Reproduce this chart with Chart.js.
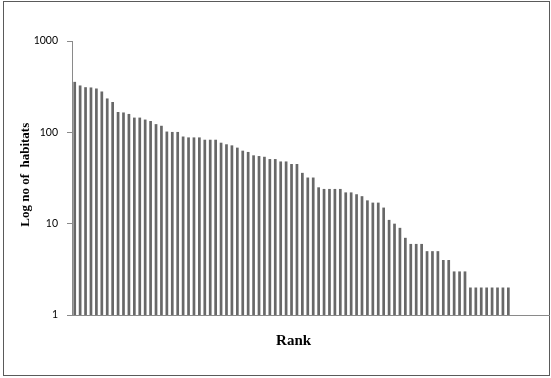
<!DOCTYPE html>
<html>
<head>
<meta charset="utf-8">
<script src="https://cdn.jsdelivr.net/npm/chart.js@4.4.1/dist/chart.umd.min.js"></script>
<style>
  html, body { margin: 0; padding: 0; background: #ffffff; }
  #wrap { position: absolute; left: 0; top: 0; width: 551px; height: 378px; }
</style>
</head>
<body>
<div id="wrap"><canvas id="c" width="551" height="378"></canvas></div>
<script>
// Rank categories (88 slots on the axis, 81 filled)
const ranks = Array.from({length: 88}, (_, i) => String(i + 1));
// Number of habitats per rank
const habitats = [
  357, 326, 312, 310, 302, 280, 235, 215, 167, 165,
  159, 145, 145, 138, 133, 123, 118, 102, 101, 101,
  90, 88, 88, 88, 83, 83, 83, 77, 74, 72,
  68, 63, 61, 56, 55, 54, 51, 51, 48, 48,
  45, 45, 36, 32, 32, 25, 24, 24, 24, 24,
  22, 22, 21, 20, 18, 17, 17, 15, 11, 10,
  9, 7, 6, 6, 6, 5, 5, 5, 4, 4,
  3, 3, 3, 2, 2, 2, 2, 2, 2, 2,
  2
];
const yTicks = [1, 10, 100, 1000];
const yTitle = "Log no of  habitats";
const xTitle = "Rank";

const frame = {
  id: 'frame',
  beforeDraw(chart) {
    const ctx = chart.ctx;
    ctx.save();
    ctx.fillStyle = '#ffffff';
    ctx.fillRect(0, 0, chart.width, chart.height);
    ctx.strokeStyle = '#5a5a5a';
    ctx.lineWidth = 1;
    ctx.strokeRect(3.5, 1.5, 546, 374);
    ctx.restore();
  }
};

const axisGray = '#8a8a8a';

new Chart(document.getElementById('c'), {
  type: 'bar',
  data: {
    labels: ranks,
    datasets: [{
      data: habitats,
      backgroundColor: '#686868',
      borderWidth: 0,
      barPercentage: 0.5,
      categoryPercentage: 1.0
    }]
  },
  options: {
    responsive: false,
    animation: false,
    devicePixelRatio: 1,
    layout: { padding: { left: 14, top: 41, right: 2, bottom: 0 } },
    plugins: { legend: { display: false }, tooltip: { enabled: false } },
    scales: {
      x: {
        type: 'category',
        grid: { display: false },
        border: { display: true, color: axisGray, width: 1 },
        ticks: { display: false },
        title: {
          display: true,
          text: xTitle + '         ',
          color: '#000000',
          font: { family: 'Liberation Serif', size: 15, weight: 'bold' },
          padding: { top: 0, bottom: 28 }
        },
        afterFit(scale) { scale.height = 63; }
      },
      y: {
        type: 'logarithmic',
        min: 1,
        max: 1000,
        grid: { display: true, drawOnChartArea: false, drawTicks: true, tickLength: 5, color: axisGray },
        border: { display: true, color: axisGray, width: 1 },
        ticks: {
          color: '#000000',
          padding: 9,
          font: { family: 'Lato', size: 10.5 },
          callback: (v) => String(v)
        },
        afterBuildTicks(scale) { scale.ticks = yTicks.map(v => ({ value: v })); },
        title: {
          display: true,
          text: '  ' + yTitle,
          color: '#000000',
          font: { family: 'Liberation Serif', size: 13, weight: 'bold' },
          padding: { top: 4, bottom: 0 }
        },
        afterFit(scale) { scale.width = 58; }
      }
    }
  },
  plugins: [frame]
});
</script>
</body>
</html>
